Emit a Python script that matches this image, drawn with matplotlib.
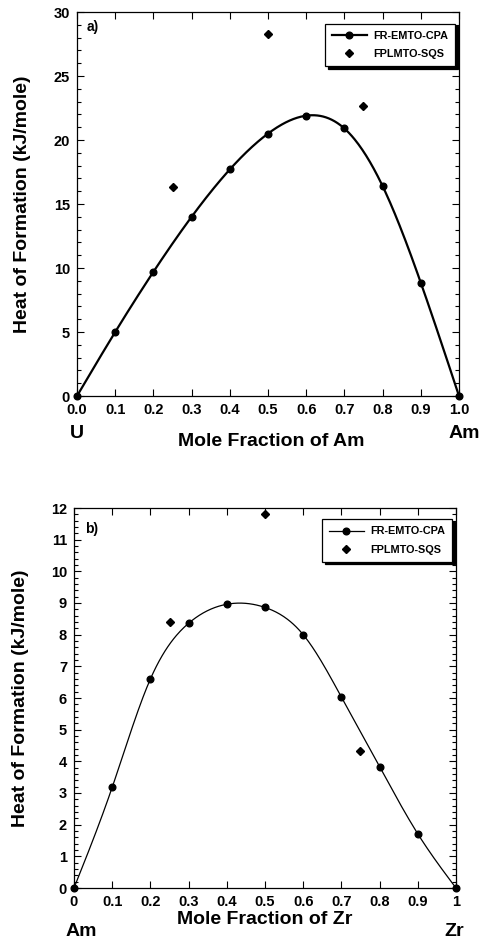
import numpy as np
import matplotlib
matplotlib.use("Agg")
import matplotlib.pyplot as plt
from matplotlib.ticker import MultipleLocator, FormatStrFormatter

plt.rcParams['font.family'] = ['Liberation Sans', 'DejaVu Sans']
plt.rcParams['font.weight'] = 'bold'

# U-Am alloy
x_cpa = [0.0, 0.1, 0.2, 0.3, 0.4, 0.5, 0.6, 0.7, 0.8, 0.9, 1.0]
uam_cpa = [0.0, 5.0, 9.7, 14.0, 17.7, 20.5, 21.9, 20.9, 16.4, 8.85, 0.0]
x_sqs = [0.25, 0.5, 0.75]
uam_sqs = [16.35, 28.3, 22.65]

# Am-Zr alloy
amzr_cpa = [0.0, 3.18, 6.6, 8.36, 8.96, 8.86, 8.0, 6.03, 3.83, 1.71, 0.0]
amzr_sqs = [8.4, 11.8, 4.34]


def natural_spline(x, y, n=400):
    x = np.asarray(x, float)
    y = np.asarray(y, float)
    h = np.diff(x)
    m = len(x)
    A = np.zeros((m, m))
    b = np.zeros(m)
    A[0, 0] = A[-1, -1] = 1.0
    for i in range(1, m - 1):
        A[i, i - 1] = h[i - 1]
        A[i, i] = 2 * (h[i - 1] + h[i])
        A[i, i + 1] = h[i]
        b[i] = 6 * ((y[i + 1] - y[i]) / h[i] - (y[i] - y[i - 1]) / h[i - 1])
    M = np.linalg.solve(A, b)
    xs = np.linspace(x[0], x[-1], n)
    k = np.clip(np.searchsorted(x, xs) - 1, 0, m - 2)
    t0 = x[k + 1] - xs
    t1 = xs - x[k]
    hk = h[k]
    ys = (M[k] * t0**3 + M[k + 1] * t1**3) / (6 * hk) \
        + (y[k] / hk - M[k] * hk / 6) * t0 + (y[k + 1] / hk - M[k + 1] * hk / 6) * t1
    return xs, ys


W, H = 479, 942
fig = plt.figure(figsize=(W / 100, H / 100), dpi=100)


def px(x, y):
    return x / W, 1 - y / H


def panel(rect, ycpa, ysqs, ymax, ymajor, yminor, xfmt, lw, tag, tagpos):
    ax = fig.add_axes(rect)
    xs, ys = natural_spline(x_cpa, ycpa)
    ax.plot(xs, ys, color='black', lw=lw, zorder=2)
    ax.plot(x_cpa, ycpa, 'o', color='black', ms=4.8, clip_on=False, zorder=3)
    # legend handles
    ax.plot([], [], '-o', color='black', lw=lw, ms=4.8, label='FR-EMTO-CPA')
    ax.plot(x_sqs, ysqs, 'D', color='black', ms=4.5, ls='none', label='FPLMTO-SQS', zorder=3)
    ax.set_xlim(0, 1)
    ax.set_ylim(0, ymax)
    ax.xaxis.set_major_locator(MultipleLocator(0.1))
    ax.xaxis.set_major_formatter(xfmt)
    ax.yaxis.set_major_locator(MultipleLocator(ymajor))
    ax.yaxis.set_minor_locator(MultipleLocator(yminor))
    ax.tick_params(which='both', direction='in', top=True, right=True, labelsize=10.5, width=0.8)
    ax.tick_params(which='major', length=5, pad=5)
    ax.tick_params(which='minor', length=3)
    for s in ax.spines.values():
        s.set_linewidth(0.9)
    for lab in ax.get_xticklabels() + ax.get_yticklabels():
        lab.set_fontweight('bold')
    ax.set_ylabel('Heat of Formation (kJ/mole)', fontsize=14, fontweight='bold', labelpad=16)
    ax.text(tagpos[0], tagpos[1], tag, transform=ax.transAxes, fontsize=10, fontweight='bold',
            va='center', ha='left')
    leg = ax.legend(loc='upper right', bbox_to_anchor=(0.99, 0.97), borderaxespad=0,
                    fontsize=7.8, handlelength=3.2, handletextpad=0.6, labelspacing=0.75,
                    borderpad=0.65, fancybox=False, edgecolor='black', framealpha=1,
                    shadow={'color': 'black', 'alpha': 1})
    leg.get_frame().set_linewidth(0.9)
    for t in leg.get_texts():
        t.set_fontweight('bold')
    return ax


ax1 = panel([77 / W, 1 - 396 / H, 382 / W, 384 / H], uam_cpa, uam_sqs, 30, 5, 1,
            FormatStrFormatter('%.1f'), 1.6, 'a)', (0.025, 0.96))
ax2 = panel([74 / W, 1 - 888 / H, 382 / W, 380 / H], amzr_cpa, amzr_sqs, 12, 1, 0.2,
            FormatStrFormatter('%g'), 0.9, 'b)', (0.03, 0.945))

fig.text(*px(271, 442), 'Mole Fraction of Am', fontsize=14, fontweight='bold', ha='center', va='center')
fig.text(*px(77, 433), 'U', fontsize=14, fontweight='bold', ha='center', va='center')
fig.text(*px(464, 433), 'Am', fontsize=14, fontweight='bold', ha='center', va='center')

fig.text(*px(265, 919), 'Mole Fraction of Zr', fontsize=14, fontweight='bold', ha='center', va='center')
fig.text(*px(81, 932), 'Am', fontsize=14, fontweight='bold', ha='center', va='center')
fig.text(*px(454, 932), 'Zr', fontsize=14, fontweight='bold', ha='center', va='center')

fig.savefig('out.png', dpi=100)
